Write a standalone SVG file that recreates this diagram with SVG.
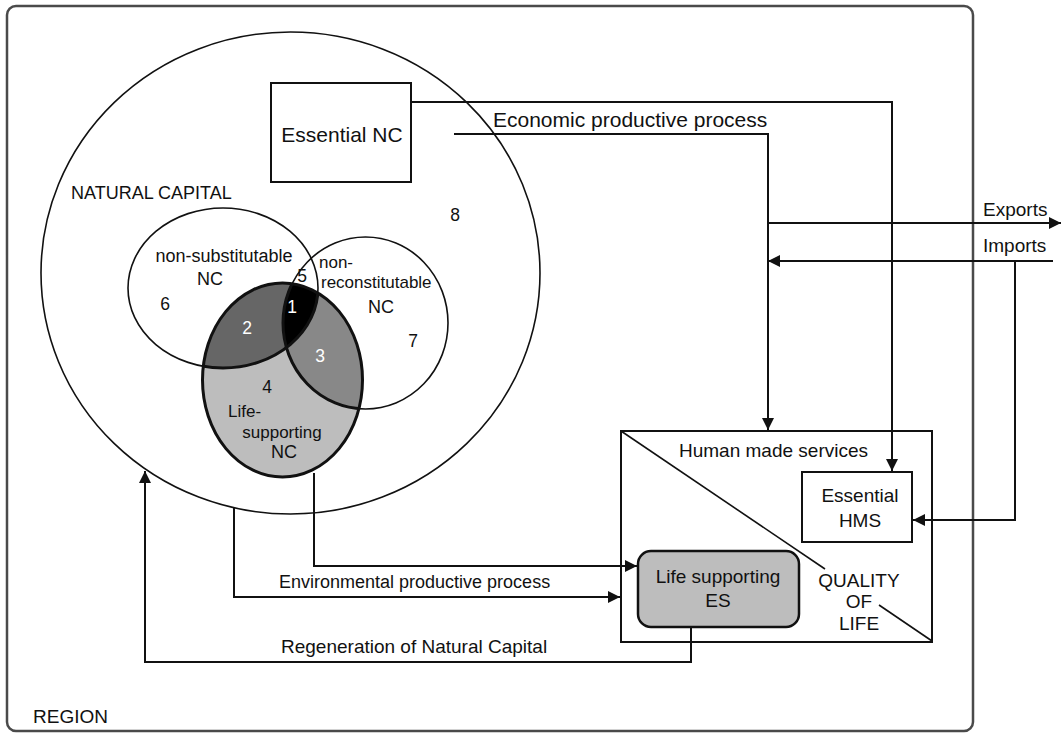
<svg xmlns="http://www.w3.org/2000/svg" width="1061" height="733" viewBox="0 0 1061 733">
<style>
text{font-family:"Liberation Sans",Arial,sans-serif;fill:#111;}
.t19{font-size:19px;}
.t18{font-size:18px;}
.t17{font-size:17px;}
.num{font-size:17.5px;}
.w{fill:#fff;}
.ln{fill:none;stroke:#111;stroke-width:2;}
.thin{fill:none;stroke:#111;stroke-width:1.6;}
.box{fill:#fff;stroke:#111;stroke-width:2;}
</style>
<defs>
<marker id="ah" viewBox="0 0 10 10" refX="10" refY="5" markerWidth="12" markerHeight="12" markerUnits="userSpaceOnUse" orient="auto">
<path d="M0,0 L10,5 L0,10 z" fill="#111"/>
</marker>
<clipPath id="lifeClip"><ellipse cx="282.5" cy="380" rx="80" ry="97"/></clipPath>
<clipPath id="leftClip"><ellipse cx="223" cy="288" rx="95" ry="80"/></clipPath>
</defs>
<rect id="region" x="7" y="6" width="966" height="725" rx="9" fill="none" stroke="#4a4a4a" stroke-width="2.5"/>
<text class="t19" x="33" y="723">REGION</text>

<g id="natural-capital">
<ellipse cx="290.5" cy="273" rx="249.5" ry="241" fill="none" stroke="#111" stroke-width="1.6"/>
<text class="t18" x="71" y="199">NATURAL CAPITAL</text>
<text class="num" x="455" y="221" text-anchor="middle">8</text>
</g>

<g id="essential-nc">
<rect class="box" x="271" y="83" width="140" height="99"/>
<text x="342" y="142" text-anchor="middle" style="font-size:21px">Essential NC</text>
</g>

<g id="venn">
<ellipse cx="223" cy="288" rx="95" ry="80" class="thin"/>
<ellipse cx="365.5" cy="323" rx="82.5" ry="86" class="thin"/>
<ellipse cx="282.5" cy="380" rx="80" ry="97" fill="#bdbdbd"/>
<g clip-path="url(#lifeClip)">
<ellipse cx="223" cy="288" rx="95" ry="80" fill="#666"/>
<ellipse cx="365.5" cy="323" rx="82.5" ry="86" fill="#888"/>
<ellipse cx="365.5" cy="323" rx="82.5" ry="86" fill="#000" clip-path="url(#leftClip)"/>
<ellipse cx="223" cy="288" rx="95" ry="80" fill="none" stroke="#111" stroke-width="3"/>
<ellipse cx="365.5" cy="323" rx="82.5" ry="86" fill="none" stroke="#111" stroke-width="3"/>
</g>
<ellipse cx="282.5" cy="380" rx="80" ry="97" fill="none" stroke="#111" stroke-width="3"/>
<text class="t18" x="224" y="262" text-anchor="middle">non-substitutable</text>
<text class="t18" x="210" y="285" text-anchor="middle">NC</text>
<text class="t17" x="319" y="268">non-</text>
<text class="t17" x="321" y="288">reconstitutable</text>
<text class="t18" x="381" y="313" text-anchor="middle">NC</text>
<text class="t17" x="228" y="417">Life-</text>
<text class="t17" x="282" y="438" text-anchor="middle">supporting</text>
<text class="t18" x="284" y="458" text-anchor="middle">NC</text>
<text class="num w" x="292" y="313" text-anchor="middle">1</text>
<text class="num w" x="247" y="334" text-anchor="middle">2</text>
<text class="num w" x="320" y="362" text-anchor="middle">3</text>
<text class="num" x="267" y="393" text-anchor="middle">4</text>
<text class="num" x="302" y="282" text-anchor="middle">5</text>
<text class="num" x="165" y="310" text-anchor="middle">6</text>
<text class="num" x="413" y="347" text-anchor="middle">7</text>
</g>

<g id="quality-of-life">
<rect class="box" x="621" y="431" width="311" height="211"/>
<line class="thin" x1="621" y1="431" x2="825" y2="569"/>
<line class="thin" x1="879" y1="605" x2="932" y2="641"/>
<text class="t19" x="679" y="457">Human made services</text>
<text class="t19" x="859" y="587" text-anchor="middle">QUALITY</text>
<text class="t19" x="859" y="608" text-anchor="middle">OF</text>
<text class="t19" x="859" y="630" text-anchor="middle">LIFE</text>
</g>

<g id="essential-hms">
<rect class="box" x="802" y="472" width="110" height="70"/>
<text class="t19" x="860" y="502" text-anchor="middle">Essential</text>
<text class="t19" x="860" y="527" text-anchor="middle">HMS</text>
</g>

<g id="life-supporting-es">
<rect x="638" y="551" width="161" height="76" rx="13" fill="#bdbdbd" stroke="#111" stroke-width="2.5"/>
<text class="t19" x="718" y="583" text-anchor="middle">Life supporting</text>
<text class="t19" x="718" y="607" text-anchor="middle">ES</text>
</g>

<g id="connectors">
<polyline class="ln" points="411,102 892,102 892,471" marker-end="url(#ah)"/>
<polyline class="ln" points="454,134 768,134 768,430" marker-end="url(#ah)"/>
<line class="ln" x1="768" y1="223" x2="1061" y2="223" marker-end="url(#ah)"/>
<line class="ln" x1="1053" y1="261" x2="768" y2="261" marker-end="url(#ah)"/>
<polyline class="ln" points="1015,261 1015,520 913,520" marker-end="url(#ah)"/>
<polyline class="ln" points="314,473 314,566 637,566" marker-end="url(#ah)"/>
<polyline class="ln" points="234,507 234,597 620,597" marker-end="url(#ah)"/>
<polyline class="ln" points="691,627 691,662 145,662 145,471" marker-end="url(#ah)"/>
<text style="font-size:21px" x="493" y="127">Economic productive process</text>
<text class="t19" x="983" y="216">Exports</text>
<text class="t19" x="983" y="252">Imports</text>
<text class="t18" x="279" y="588">Environmental productive process</text>
<text class="t19" x="281" y="653">Regeneration of Natural Capital</text>
</g>
</svg>
